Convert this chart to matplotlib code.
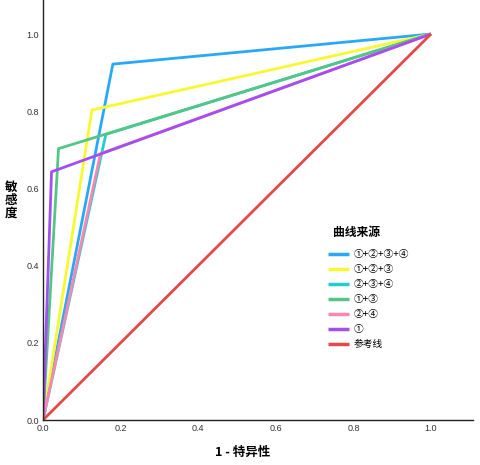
import matplotlib
matplotlib.use("Agg")
import matplotlib.pyplot as plt

plt.rcParams['font.family'] = ['Noto Sans CJK SC', 'DejaVu Sans']

series_names = ["①+②+③+④", "①+②+③", "②+③+④", "①+③", "②+④", "①", "参考线"]
series_fpr = [
    [0.0, 0.18, 1.0],
    [0.0, 0.126, 1.0],
    [0.0, 0.162, 1.0],
    [0.0, 0.04, 1.0],
    [0.0, 0.148, 1.0],
    [0.0, 0.022, 1.0],
    [0.0, 1.0],
]
series_tpr = [
    [0.0, 0.922, 1.0],
    [0.0, 0.803, 1.0],
    [0.0, 0.740, 1.0],
    [0.0, 0.703, 1.0],
    [0.0, 0.690, 1.0],
    [0.0, 0.643, 1.0],
    [0.0, 1.0],
]
colors = ["#2aa8f8", "#f8f830", "#22cfcf", "#55c585", "#fb86b0", "#a24ef0", "#e64848"]
ticks = [0.0, 0.2, 0.4, 0.6, 0.8, 1.0]
tick_labels = ["0.0", "0.2", "0.4", "0.6", "0.8", "1.0"]

fig = plt.figure(figsize=(4.81, 4.65), dpi=100)
ax = fig.add_axes([43/481, 45/465, 430/481, 420/465])

for name, xs, ys, c in zip(series_names, series_fpr, series_tpr, colors):
    ax.plot(xs, ys, color=c, lw=2.0, label=name, solid_capstyle='butt')

ax.set_xlim(0, 430/388)
ax.set_ylim(0, 420/386)
ax.set_xticks(ticks)
ax.set_xticklabels(tick_labels, family='Liberation Sans')
ax.set_yticks(ticks)
ax.set_yticklabels(tick_labels, family='Liberation Sans')
ax.tick_params(length=0, labelsize=6.5, colors='#333333', pad=3)
for s in ['top', 'right']:
    ax.spines[s].set_visible(False)
for s in ['left', 'bottom']:
    ax.spines[s].set_color('#222222')
    ax.spines[s].set_linewidth(1.0)

fig.text(243/481, 1 - 452/465, "1 - 特异性", ha='center', va='center', fontsize=9, fontweight='bold')
fig.text(11/481, 1 - 200/465, "敏\n感\n度", ha='center', va='center', fontsize=9, fontweight='bold', linespacing=1.0)
fig.text(357/481, 1 - 232/465, "曲线来源", ha='center', va='center', fontsize=8.5, fontweight='bold')

leg = ax.legend(loc='upper left', bbox_to_anchor=(328/481, 1 - 249/465), bbox_transform=fig.transFigure,
                frameon=False, fontsize=7, handlelength=2.2, handletextpad=0.4,
                labelspacing=0.52, borderaxespad=0, borderpad=0)
for line in leg.get_lines():
    line.set_linewidth(2.5)

fig.savefig("out.png", dpi=100)
